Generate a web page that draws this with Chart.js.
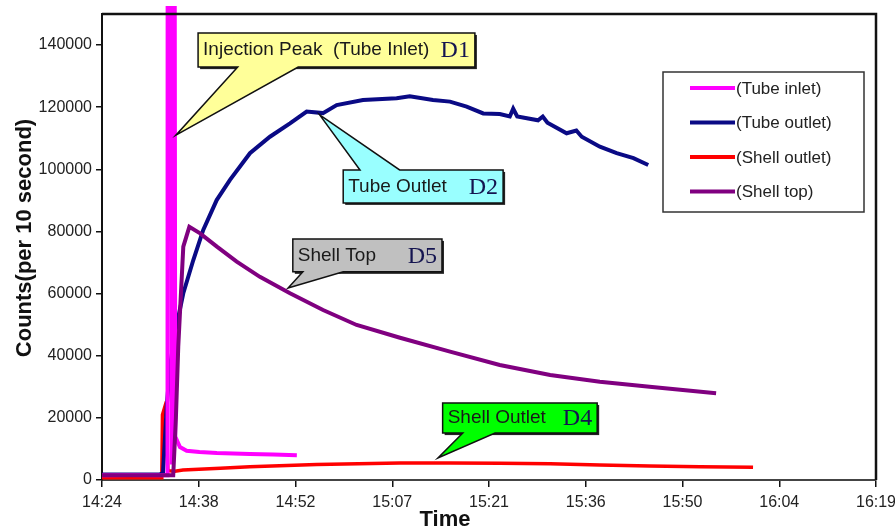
<!DOCTYPE html>
<html>
<head>
<meta charset="utf-8">
<script src="https://cdn.jsdelivr.net/npm/chart.js@4.4.0/dist/chart.umd.min.js"></script>
<style>
  html, body { margin: 0; padding: 0; background: #fff; }
  #chart { display: block; }
</style>
</head>
<body>
<canvas id="chart" width="895" height="528"></canvas>
<script>
// x values are minutes after 14:24, y values are counts per 10 s
const tickLabels = ['14:24', '14:38', '14:52', '15:07', '15:21', '15:36', '15:50', '16:04', '16:19'];
const tickStep = 14.4;
const yTickValues = [0, 20000, 40000, 60000, 80000, 100000, 120000, 140000];

const inletMin = [0, 4, 9.75, 9.85, 10.4, 10.45, 10.9, 11.6, 12.6, 14.5, 17.1, 22, 25.5, 29];
const inletCounts = [1500, 1600, 1500, 900000, 5000, 900000, 14000, 10600, 9400, 9000, 8700, 8400, 8200, 8000];

const outletMin = [0, 8.6, 9.08, 9.63, 10.12, 10.86, 12.1, 13.59, 15.07, 17.07, 19.05, 22.02, 25.0, 27.98, 30.46, 32.89,
  34.93, 38.84, 43.85, 45.8, 49.26, 51.79, 54.27, 56.74, 59.2, 60.7, 61.2, 61.8, 64.9, 65.6, 66.3, 69.15, 70.6, 71.4,
  74.1, 76.6, 79.1, 81.3];
const outletCounts = [1800, 1800, 2200, 23600, 36500, 47300, 60100, 70800, 80500, 90100, 96600, 105200, 110500, 114800,
  118600, 118100, 120700, 122300, 122900, 123500, 122300, 121800, 120200, 118000, 117800, 117000, 119500, 117000,
  115800, 117000, 115000, 111600, 112500, 110500, 107300, 105200, 103600, 101400];

const shellOutMin = [0, 8.9, 9.0, 9.3, 9.6, 9.8, 10.86, 12.05, 17.6, 22.0, 31.95, 44.35, 51.8, 59.2, 66.7, 74.1, 81.5, 89, 96.9];
const shellOutCounts = [700, 700, 21000, 23200, 20000, 3000, 2800, 3200, 3800, 4300, 5000, 5500, 5500, 5400, 5200, 4800, 4500, 4300, 4100];

const shellTopMin = [0, 10.6, 11.0, 11.35, 12.1, 13.0, 14.6, 17.1, 20.05, 23.5, 27.98, 32.9, 37.9, 44.35, 51.8, 59.2,
  66.7, 74.1, 81.5, 91.4];
const shellTopCounts = [1500, 1500, 20000, 42900, 75100, 81500, 79400, 75100, 70300, 65400, 60100, 54700, 49900, 45800,
  41300, 37000, 33800, 31600, 30000, 27900];

const seriesNames = ['(Tube inlet)', '(Tube outlet)', '(Shell outlet)', '(Shell top)'];
const seriesColors = ['#ff00ff', '#0a0a85', '#ff0000', '#800080'];

// callouts: tip and box in data units (minutes, counts)
const callouts = [
  { text: 'Injection Peak  (Tube Inlet)', tag: 'D1', fill: '#ffff99', box: [14.3, 143900, 55.5, 132900], base: [20.2, 29.2], side: 'bottom', tip: [11.0, 111000] },
  { text: 'Tube Outlet', tag: 'D2', fill: '#99ffff', box: [35.9, 99800, 59.7, 89200], base: [38.4, 44.3], side: 'top', tip: [32.4, 117500] },
  { text: 'Shell Top', tag: 'D5', fill: '#c0c0c0', box: [28.4, 77600, 50.6, 67000], base: [29.9, 35.9], side: 'bottom', tip: [27.7, 61800] },
  { text: 'Shell Outlet', tag: 'D4', fill: '#00ff00', box: [50.7, 24800, 73.7, 15100], base: [53.7, 58.5], side: 'bottom', tip: [50.0, 7100] }
];

function toPoints(xs, ys) {
  return xs.map((x, i) => ({ x: x, y: ys[i] }));
}

const sans = '"Liberation Sans", Arial, sans-serif';
const serif = '"Liberation Serif", "Times New Roman", serif';

const decorations = {
  id: 'decorations',
  afterDatasetsDraw(chart) {
    const ctx = chart.ctx;
    const a = chart.chartArea;
    const xs = chart.scales.x;
    const ys = chart.scales.y;

    // frame top and right
    ctx.save();
    ctx.strokeStyle = '#111';
    ctx.lineWidth = 2.5;
    ctx.beginPath();
    ctx.moveTo(a.left, a.top);
    ctx.lineTo(a.right, a.top);
    ctx.lineTo(a.right, a.bottom);
    ctx.stroke();

    // callouts
    callouts.forEach(c => {
      const x0 = xs.getPixelForValue(c.box[0]);
      const yT = ys.getPixelForValue(c.box[1]);
      const x1 = xs.getPixelForValue(c.box[2]);
      const yB = ys.getPixelForValue(c.box[3]);
      const b0 = xs.getPixelForValue(c.base[0]);
      const b1 = xs.getPixelForValue(c.base[1]);
      const tx = xs.getPixelForValue(c.tip[0]);
      const ty = ys.getPixelForValue(c.tip[1]);

      ctx.fillStyle = '#222';
      ctx.fillRect(x0 + 2, yT + 2, x1 - x0, yB - yT);

      ctx.beginPath();
      if (c.side === 'top') {
        ctx.moveTo(x0, yT);
        ctx.lineTo(b0, yT);
        ctx.lineTo(tx, ty);
        ctx.lineTo(b1, yT);
        ctx.lineTo(x1, yT);
        ctx.lineTo(x1, yB);
        ctx.lineTo(x0, yB);
      } else {
        ctx.moveTo(x0, yT);
        ctx.lineTo(x1, yT);
        ctx.lineTo(x1, yB);
        ctx.lineTo(b1, yB);
        ctx.lineTo(tx, ty);
        ctx.lineTo(b0, yB);
        ctx.lineTo(x0, yB);
      }
      ctx.closePath();
      ctx.fillStyle = c.fill;
      ctx.fill();
      ctx.strokeStyle = '#111';
      ctx.lineWidth = 1.5;
      ctx.stroke();

      const my = (yT + yB) / 2;
      ctx.textBaseline = 'middle';
      ctx.textAlign = 'left';
      ctx.fillStyle = '#1a1a1a';
      ctx.font = '19px ' + sans;
      ctx.fillText(c.text, x0 + 5, my);
      ctx.textAlign = 'right';
      ctx.fillStyle = '#141450';
      ctx.font = '24px ' + serif;
      ctx.fillText(c.tag, x1 - 5, my + 1);
    });

    // legend
    const lx = 663, ly = 72, lw = 201, lh = 140;
    ctx.fillStyle = '#fff';
    ctx.fillRect(lx, ly, lw, lh);
    ctx.strokeStyle = '#333';
    ctx.lineWidth = 1.5;
    ctx.strokeRect(lx, ly, lw, lh);
    seriesNames.forEach((name, i) => {
      const yy = 88 + i * 34.5;
      ctx.strokeStyle = seriesColors[i];
      ctx.lineWidth = 4;
      ctx.beginPath();
      ctx.moveTo(690, yy);
      ctx.lineTo(735, yy);
      ctx.stroke();
      ctx.fillStyle = '#222';
      ctx.font = '17px ' + sans;
      ctx.textAlign = 'left';
      ctx.textBaseline = 'middle';
      ctx.fillText(name, 736, yy + 1);
    });

    // axis titles
    ctx.fillStyle = '#111';
    ctx.font = 'bold 22px ' + sans;
    ctx.textAlign = 'center';
    ctx.textBaseline = 'middle';
    ctx.fillText('Time', 445, 520);
    ctx.translate(25, 238);
    ctx.rotate(-Math.PI / 2);
    ctx.fillText('Counts(per 10 second)', 0, 0);
    ctx.restore();
  }
};

const chart = new Chart(document.getElementById('chart'), {
  type: 'line',
  data: {
    datasets: [
      { label: seriesNames[0], data: toPoints(inletMin, inletCounts), borderColor: seriesColors[0], borderWidth: 4, order: 1,
        clip: { left: 5, top: 8, right: 5, bottom: 5 } },
      { label: seriesNames[1], data: toPoints(outletMin, outletCounts), borderColor: seriesColors[1], borderWidth: 4, order: 2 },
      { label: seriesNames[2], data: toPoints(shellOutMin, shellOutCounts), borderColor: seriesColors[2], borderWidth: 3.5, order: 3 },
      { label: seriesNames[3], data: toPoints(shellTopMin, shellTopCounts), borderColor: seriesColors[3], borderWidth: 4, order: 0 }
    ]
  },
  options: {
    responsive: false,
    animation: false,
    devicePixelRatio: 1,
    layout: { padding: { top: 14, right: 19, left: 0, bottom: 0 } },
    elements: { point: { radius: 0 }, line: { tension: 0 } },
    plugins: { legend: { display: false }, tooltip: { enabled: false } },
    scales: {
      x: {
        type: 'linear',
        min: 0,
        max: tickStep * (tickLabels.length - 1),
        afterBuildTicks: s => { s.ticks = tickLabels.map((_, i) => ({ value: i * tickStep })); },
        afterFit: s => { s.height = 48; s.paddingLeft = 0; s.paddingRight = 0; },
        ticks: {
          autoSkip: false,
          maxRotation: 0,
          padding: 6,
          color: '#222',
          font: { family: sans, size: 16 },
          callback: (v, i) => tickLabels[i]
        },
        grid: { drawOnChartArea: false, drawTicks: true, tickLength: 7, color: '#111', lineWidth: 1.5 },
        border: { display: true, color: '#444', width: 2 }
      },
      y: {
        min: 0,
        max: 150000,
        afterBuildTicks: s => { s.ticks = yTickValues.map(v => ({ value: v })); },
        afterFit: s => { s.width = 102; s.paddingTop = 0; s.paddingBottom = 0; },
        ticks: {
          padding: 4,
          color: '#222',
          font: { family: sans, size: 16 },
          callback: v => String(v)
        },
        grid: { drawOnChartArea: false, drawTicks: true, tickLength: 6, color: '#111', lineWidth: 1.5 },
        border: { display: true, color: '#111', width: 2 }
      }
    }
  },
  plugins: [decorations]
});
</script>
</body>
</html>
